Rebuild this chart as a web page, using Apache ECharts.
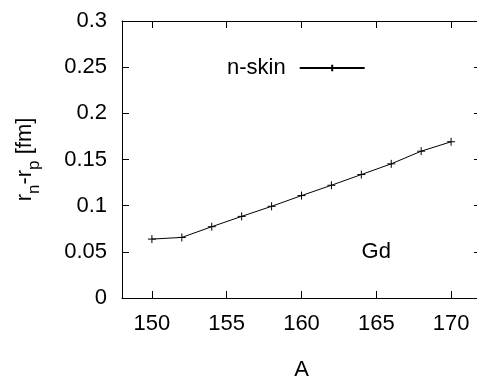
<!DOCTYPE html>
<html>
<head>
<meta charset="utf-8">
<script src="https://cdn.jsdelivr.net/npm/echarts@6/dist/echarts.min.js"></script>
<style>
  html, body { margin: 0; padding: 0; background: #fff; }
  #chart { width: 477px; height: 379px; }
</style>
</head>
<body>
<div id="chart"></div>
<script>
// Mass number A of the Gd isotopes
const massNumbers = [150, 152, 154, 156, 158, 160, 162, 164, 166, 168, 170];
// Neutron skin thickness r_n - r_p in fm
const skinValues = [0.0638, 0.0656, 0.0772, 0.0884, 0.0993, 0.1109, 0.1221, 0.1337, 0.1453, 0.1590, 0.1692];
// Tick positions along A
const xTicks = [150, 155, 160, 165, 170];

const FONT = '"Liberation Sans", Arial, Helvetica, sans-serif';
const INK = '#000';

const chart = echarts.init(document.getElementById('chart'), null, { renderer: 'canvas' });

// plus-shaped point marker (stroked)
const plusSymbol = 'path://M0,5L10,5M5,0L5,10';

// fresh style objects for every axis
const axisLine = () => ({ show: true, onZero: false, lineStyle: { color: INK, width: 1 } });
const ticks = (extra) => Object.assign({ show: true, inside: true, length: 7, lineStyle: { color: INK, width: 1 } }, extra || {});

chart.setOption({
  animation: false,
  grid: { left: 122, top: 21, right: -4, bottom: 81, outerBoundsMode: 'none' },
  legend: {
    show: true,
    left: 222,
    top: 52,
    align: 'right',
    itemWidth: 65,
    itemHeight: 8,
    textStyle: { fontFamily: FONT, fontSize: 22, color: INK, padding: [0, 9, 0, 0] },
    data: ['n-skin']
  },
  xAxis: [
    {
      type: 'value',
      min: 148,
      max: 172,
      position: 'bottom',
      name: 'A',
      nameLocation: 'middle',
      nameGap: 61,
      nameTextStyle: { fontFamily: FONT, fontSize: 22, color: INK },
      splitLine: { show: false },
      axisLine: axisLine(),
      axisTick: ticks({ customValues: xTicks }),
      axisLabel: { margin: 15, fontFamily: FONT, fontSize: 22, color: INK, customValues: xTicks }
    },
    {
      type: 'value',
      min: 148,
      max: 172,
      position: 'top',
      splitLine: { show: false },
      axisLine: axisLine(),
      axisTick: ticks({ customValues: xTicks }),
      axisLabel: { show: false, customValues: xTicks }
    }
  ],
  yAxis: [
    {
      type: 'value',
      min: 0,
      max: 0.3,
      interval: 0.05,
      position: 'left',
      name: '{m|r}{s|n}{m|-r}{s|p}{m| [fm]}',
      nameLocation: 'middle',
      nameRotate: 90,
      nameGap: 86,
      nameTextStyle: {
        fontFamily: FONT, color: INK,
        rich: {
          m: { fontFamily: FONT, fontSize: 22, color: INK, verticalAlign: 'bottom' },
          s: { fontFamily: FONT, fontSize: 17, color: INK, verticalAlign: 'bottom', padding: [0, 0, -7, 0] }
        }
      },
      splitLine: { show: false },
      axisLine: axisLine(),
      axisTick: ticks(),
      axisLabel: { margin: 15, fontFamily: FONT, fontSize: 22, color: INK }
    },
    {
      type: 'value',
      min: 0,
      max: 0.3,
      interval: 0.05,
      position: 'right',
      splitLine: { show: false },
      axisLine: axisLine(),
      axisTick: ticks(),
      axisLabel: { show: false }
    }
  ],
  series: [
    {
      name: 'n-skin',
      type: 'line',
      data: massNumbers.map((a, i) => [a, skinValues[i]]),
      symbol: plusSymbol,
      symbolSize: 8,
      lineStyle: { color: INK, width: 1 },
      itemStyle: { color: INK, borderColor: INK, borderWidth: 1 },
      markPoint: {
        symbol: 'circle',
        symbolSize: 1,
        silent: true,
        itemStyle: { color: 'rgba(0,0,0,0)', borderWidth: 0 },
        label: { show: true, position: 'inside', formatter: 'Gd', fontFamily: FONT, fontSize: 22, color: INK },
        data: [ { name: 'Gd', coord: [165, 0.05] } ]
      }
    }
  ]
});
</script>
</body>
</html>
